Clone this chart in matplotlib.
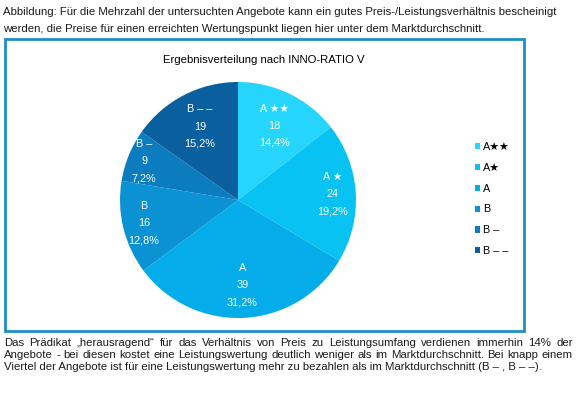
import matplotlib
matplotlib.use("Agg")
import matplotlib.pyplot as plt
from matplotlib.patches import Rectangle
import numpy as np

plt.rcParams["font.family"] = ["Liberation Sans", "DejaVu Sans"]

# data
names = ["A\u2605\u2605", "A\u2605", "A", "B", "B \u2013", "B \u2013 \u2013"]
slice_names = ["A \u2605\u2605", "A \u2605", "A", "B", "B \u2013", "B \u2013 \u2013"]
counts = [18, 24, 39, 16, 9, 19]
colors = ["#25d5fb", "#09c2f4", "#04ade9", "#0a92d2", "#0b7cbd", "#0a5f9e"]

title = "Ergebnisverteilung nach INNO-RATIO V"
top_lines = [
    "Abbildung: Für die Mehrzahl der untersuchten Angebote kann ein gutes Preis-/Leistungsverhältnis bescheinigt",
    "werden, die Preise für einen erreichten Wertungspunkt liegen hier unter dem Marktdurchschnitt.",
]
bottom_lines = [
    "Das Prädikat \u201eherausragend\u201c für das Verhältnis von Preis zu Leistungsumfang verdienen immerhin 14% der",
    "Angebote - bei diesen kostet eine Leistungswertung deutlich weniger als im Marktdurchschnitt. Bei knapp einem",
    "Viertel der Angebote ist für eine Leistungswertung mehr zu bezahlen als im Marktdurchschnitt (B \u2013 , B \u2013 \u2013).",
]

W, H = 579, 396
fig = plt.figure(figsize=(W / 100, H / 100), dpi=100)
txt = "#1a1a1a"
fs_body = 8.2

# blue frame around the chart
fig.patches.append(Rectangle((4.5 / W, (H - 331) / H), 519.5 / W, 292 / H,
                             transform=fig.transFigure, fill=False,
                             edgecolor="#1d8fc6", linewidth=2.0))

for i, line in enumerate(top_lines):
    fig.text(3 / W, 1 - (12 + 16.5 * i) / H, line, fontsize=fs_body,
             va="center", color=txt)

fig.text(263.5 / W, 1 - 60 / H, title, fontsize=8.2, ha="center", va="center",
         color="black")

# pie
cx, cy, R = 238, 200, 118
ax = fig.add_axes([(cx - R) / W, (H - cy - R) / H, 2 * R / W, 2 * R / H])
wedges, _ = ax.pie(counts, colors=colors, startangle=90, counterclock=False,
                   radius=1, wedgeprops=dict(linewidth=0))
ax.set_xlim(-1, 1)
ax.set_ylim(-1, 1)
ax.axis("off")

total = sum(counts)
dists = [0.7, 0.8, 0.72, 0.82, 0.86, 0.7]
for w, nm, n, d in zip(wedges, slice_names, counts, dists):
    ang = np.deg2rad((w.theta1 + w.theta2) / 2)
    pct = f"{100 * n / total:.1f}%".replace(".", ",")
    ax.text(d * np.cos(ang), d * np.sin(ang), f"{nm}\n{n}\n{pct}",
            ha="center", va="center", color="white", fontsize=7.8,
            linespacing=1.9)

fig.legend(wedges, names, loc="upper left",
           bbox_to_anchor=(475 / W, 1 - 142 / H), frameon=False,
           fontsize=7.8, handlelength=0.5, handleheight=0.5,
           handletextpad=0.25, labelspacing=1.0, borderpad=0,
           borderaxespad=0)

# justified paragraph below the frame
renderer = fig.canvas.get_renderer()
x0, x1 = 4, 573
for i, line in enumerate(bottom_lines):
    y = 1 - (343 + 11.8 * i) / H
    if i == len(bottom_lines) - 1:
        fig.text(x0 / W, y, line, fontsize=fs_body, va="center", color=txt)
        continue
    words = line.split(" ")
    texts = [fig.text(0, y, wd, fontsize=fs_body, va="center", color=txt)
             for wd in words]
    widths = [t.get_window_extent(renderer).width for t in texts]
    gap = ((x1 - x0) - sum(widths)) / (len(words) - 1)
    x = x0
    for t, wd in zip(texts, widths):
        t.set_x(x / W)
        x += wd + gap

fig.savefig("out.png", dpi=100)
